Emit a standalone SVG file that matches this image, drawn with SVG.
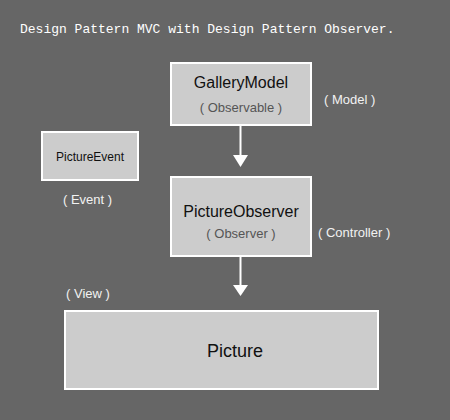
<svg xmlns="http://www.w3.org/2000/svg" width="450" height="420" viewBox="0 0 450 420">
<style>
.box{fill:#cccccc;stroke:#ffffff;stroke-width:2}
.name{font-family:"Liberation Sans",Arial,sans-serif;fill:#111111;text-anchor:middle}
.sub{font-family:"Liberation Sans",Arial,sans-serif;font-size:13px;fill:#555555;text-anchor:middle}
.role{font-family:"Liberation Sans",Arial,sans-serif;font-size:13px;fill:#f2f2f2}
.title{font-family:"Liberation Mono","Courier New",monospace;font-size:13px;fill:#ffffff}
.conn{stroke:#ffffff;stroke-width:2;fill:none}
.head{fill:#ffffff}
</style>
<rect width="450" height="420" fill="#666666"/>
<text class="title" x="20" y="33">Design Pattern MVC with Design Pattern Observer.</text>
<g id="connectors">
<line class="conn" x1="240.5" y1="126" x2="240.5" y2="156"/>
<polygon class="head" points="233,155 248,155 240.5,167"/>
<line class="conn" x1="240.5" y1="257" x2="240.5" y2="286"/>
<polygon class="head" points="233,285 248,285 240.5,296"/>
</g>
<g id="GalleryModel">
<rect class="box" x="171" y="63" width="140" height="62"/>
<text class="name" x="241" y="88" font-size="16">GalleryModel</text>
<text class="sub" x="241" y="112">( Observable )</text>
</g>
<text class="role" x="324" y="104">( Model )</text>
<g id="PictureEvent">
<rect class="box" x="42" y="132" width="96" height="48"/>
<text class="name" x="90" y="161" font-size="12">PictureEvent</text>
</g>
<text class="role" x="63" y="204">( Event )</text>
<g id="PictureObserver">
<rect class="box" x="171" y="177" width="140" height="79"/>
<text class="name" x="241" y="217" font-size="16">PictureObserver</text>
<text class="sub" x="241" y="238">( Observer )</text>
</g>
<text class="role" x="318" y="237">( Controller )</text>
<text class="role" x="66" y="298">( View )</text>
<g id="Picture">
<rect class="box" x="65" y="311" width="313" height="78"/>
<text class="name" x="235" y="357" font-size="18">Picture</text>
</g>
</svg>
